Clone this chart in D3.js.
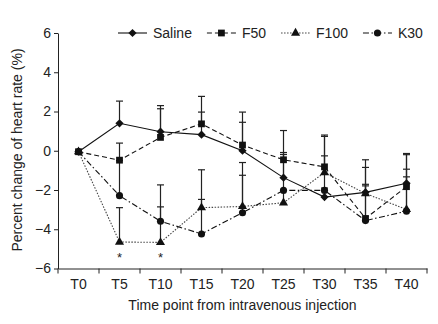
<!DOCTYPE html>
<html>
<head>
<meta charset="utf-8">
<script src="https://cdn.jsdelivr.net/npm/d3@7"></script>
<style>
  body { margin: 0; background: #fff; }
  text { font-family: "Liberation Sans", Arial, sans-serif; fill: #222; }
</style>
</head>
<body>
<div id="chart"></div>
<script>
// time points and series (mean + top of error bar)
const categories = ["T0", "T5", "T10", "T15", "T20", "T25", "T30", "T35", "T40"];

const saline   = [-0.05, 1.40, 0.97, 0.82, 0.00, -1.37, -2.36, -2.12, -1.66];
const salineUp = [-0.05, 2.53, 2.30, 1.97, 1.45, -0.09, -1.90, -1.79, -1.33];
const f50      = [-0.05, -0.48, 0.68, 1.37, 0.29, -0.46, -0.82, -3.45, -1.83];
const f50Up    = [-0.05, 0.39, 2.14, 2.77, 1.97, 1.03, 0.80, -0.46, -0.94];
const f100     = [-0.05, -4.65, -4.67, -2.90, -2.84, -2.65, -1.11, -2.18, -2.99];
const f100Up   = [-0.05, -2.90, -2.86, -0.97, -1.25, -2.00, 0.73, -1.71, -0.14];
const k30      = [-0.05, -2.29, -3.59, -4.24, -3.16, -2.02, -2.02, -3.56, -3.08];
const k30Up    = [-0.05, -0.50, -1.74, -2.48, -0.60, -0.19, -0.26, -0.85, -0.20];

const yTicks = [-6, -4, -2, 0, 2, 4, 6];
const starAt = ["T5", "T10"];   // significant points (F100)

const series = [
  { name: "Saline", values: saline, up: salineUp, symbol: "diamond", dash: null, color: "#111" },
  { name: "F50",    values: f50,    up: f50Up,    symbol: "square",  dash: "5,3", color: "#111" },
  { name: "F100",   values: f100,   up: f100Up,   symbol: "triangle", dash: "1.5,1.5", color: "#444" },
  { name: "K30",    values: k30,    up: k30Up,    symbol: "circle",  dash: "6,2.5,1.5,2.5", color: "#111" }
];

const width = 438, height = 324,
      margin = ({ top: 33, right: 11, bottom: 56, left: 58 });

const svg = d3.select("#chart")
  .append("svg")
  .attr("width", width)
  .attr("height", height);

const x = d3.scaleBand()
  .domain(categories)
  .range([margin.left, width - margin.right])
  .padding(0);

const y = d3.scaleLinear()
  .domain([-6, 6])
  .range([height - margin.bottom + 0.5, margin.top]);

const cx = c => x(c) + x.bandwidth() / 2;

// marker shapes
function marker(sel, kind) {
  const shapes = {
    diamond:  d3.symbol(d3.symbolSquare, 34),
    square:   d3.symbol(d3.symbolSquare, 46),
    triangle: d3.symbol(d3.symbolTriangle, 36),
    circle:   d3.symbol(d3.symbolCircle, 40)
  };
  sel.attr("d", shapes[kind]());
  if (kind === "diamond") sel.attr("transform", function() {
    return d3.select(this).attr("transform") + " rotate(45)";
  });
}

// axes
const xAxis = svg.append("g")
  .attr("transform", `translate(0,${y(-6)})`)
  .call(d3.axisBottom(x).tickSize(0).tickPadding(11));
xAxis.selectAll("text").style("font-size", "14px");
xAxis.select(".domain").attr("stroke", "#222");

// band boundary ticks
xAxis.selectAll(".bound")
  .data(categories.concat(["end"]))
  .join("line")
  .attr("class", "bound")
  .attr("x1", (d, i) => i < categories.length ? x(d) : x.range()[1])
  .attr("x2", (d, i) => i < categories.length ? x(d) : x.range()[1])
  .attr("y1", 0).attr("y2", 5)
  .attr("stroke", "#222");

const yAxis = svg.append("g")
  .attr("transform", `translate(${margin.left},0)`)
  .call(d3.axisLeft(y).tickValues(yTicks).tickSize(4).tickPadding(3).tickSizeOuter(0));
yAxis.selectAll("text").style("font-size", "14px");
yAxis.selectAll("line, .domain").attr("stroke", "#222");

// axis titles
svg.append("text")
  .attr("x", (margin.left + width - margin.right) / 2 + 0)
  .attr("y", 310)
  .attr("text-anchor", "middle")
  .style("font-size", "14px")
  .text("Time point from intravenous injection");

svg.append("text")
  .attr("transform", `translate(22,${150}) rotate(-90)`)
  .attr("text-anchor", "middle")
  .style("font-size", "14px")
  .text("Percent change of heart rate (%)");

// error bars (upper only)
const errG = svg.append("g");
series.forEach(s => {
  const pts = categories.map((c, i) => ({ c, v: s.values[i], u: s.up[i] }))
    .filter(d => d.u > d.v);
  const g = errG.append("g").attr("stroke", "#222").attr("stroke-width", 1.2);
  g.selectAll(".stem").data(pts).join("line")
    .attr("x1", d => cx(d.c)).attr("x2", d => cx(d.c))
    .attr("y1", d => y(d.v)).attr("y2", d => y(d.u));
  g.selectAll(".cap").data(pts).join("line")
    .attr("x1", d => cx(d.c) - 3.5).attr("x2", d => cx(d.c) + 3.5)
    .attr("y1", d => y(d.u)).attr("y2", d => y(d.u));
});

// lines
const line = d3.line()
  .x((d, i) => cx(categories[i]))
  .y(d => y(d));

series.forEach(s => {
  svg.append("path")
    .datum(s.values)
    .attr("fill", "none")
    .attr("stroke", s.color)
    .attr("stroke-width", 1.1)
    .attr("stroke-dasharray", s.dash)
    .attr("d", line);
});

// markers
series.forEach(s => {
  svg.append("g").selectAll("path")
    .data(s.values)
    .join("path")
    .attr("fill", "#111")
    .attr("transform", (d, i) => `translate(${cx(categories[i])},${y(d)})`)
    .each(function() { marker(d3.select(this), s.symbol); });
});

// asterisks
svg.selectAll(".star")
  .data(starAt)
  .join("text")
  .attr("x", d => cx(d))
  .attr("y", d => y(f100[categories.indexOf(d)]) + 20)
  .attr("text-anchor", "middle")
  .style("font-size", "13px")
  .text("*");

// legend
const legend = svg.append("g").attr("transform", `translate(118,${margin.top})`);
let lx = 0;
series.forEach(s => {
  const g = legend.append("g").attr("transform", `translate(${lx},0)`);
  g.append("line")
    .attr("x1", 0).attr("x2", 29)
    .attr("stroke", s.color)
    .attr("stroke-width", 1.1)
    .attr("stroke-dasharray", s.dash);
  g.append("path")
    .attr("fill", "#111")
    .attr("transform", "translate(14.5,0)")
    .each(function() { marker(d3.select(this), s.symbol); });
  const t = g.append("text")
    .attr("x", 35)
    .attr("dy", "0.35em")
    .style("font-size", "14px")
    .text(s.name);
  lx += 35 + t.node().getComputedTextLength() + 15;
});
</script>
</body>
</html>
